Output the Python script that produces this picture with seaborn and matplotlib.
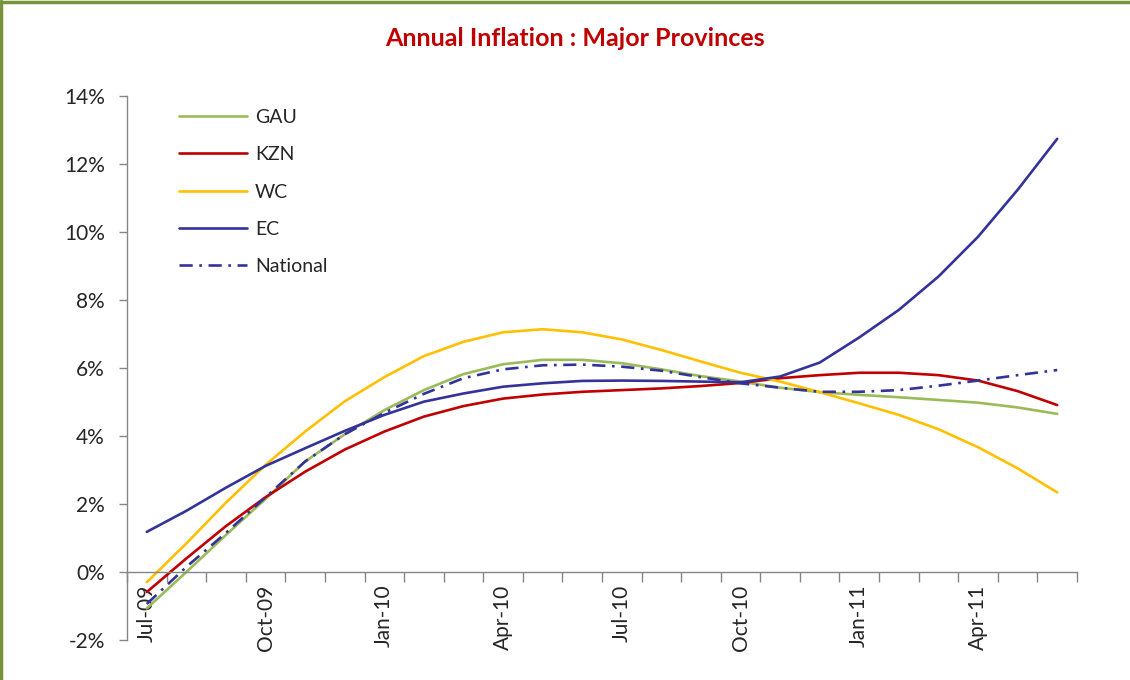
import numpy as np
import pandas as pd
import matplotlib.pyplot as plt
import matplotlib.ticker as mticker
from matplotlib.lines import Line2D
import seaborn as sns

# monthly annual inflation (%), Jul-09 .. Jun-11
months = ['Jul-09', 'Aug-09', 'Sep-09', 'Oct-09', 'Nov-09', 'Dec-09',
          'Jan-10', 'Feb-10', 'Mar-10', 'Apr-10', 'May-10', 'Jun-10',
          'Jul-10', 'Aug-10', 'Sep-10', 'Oct-10', 'Nov-10', 'Dec-10',
          'Jan-11', 'Feb-11', 'Mar-11', 'Apr-11', 'May-11', 'Jun-11']

gau = [-1.07, 0.0, 1.09, 2.15, 3.25, 4.05, 4.76, 5.35, 5.82, 6.11, 6.24, 6.24,
       6.14, 5.96, 5.76, 5.60, 5.42, 5.29, 5.21, 5.14, 5.06, 4.98, 4.84, 4.65]
kzn = [-0.59, 0.40, 1.35, 2.20, 2.95, 3.60, 4.13, 4.57, 4.88, 5.10, 5.22, 5.30,
       5.35, 5.40, 5.47, 5.56, 5.70, 5.79, 5.86, 5.86, 5.79, 5.63, 5.32, 4.91]
wc = [-0.30, 0.84, 2.04, 3.15, 4.13, 5.02, 5.73, 6.35, 6.77, 7.05, 7.14, 7.05,
      6.84, 6.53, 6.19, 5.86, 5.60, 5.29, 4.96, 4.62, 4.20, 3.67, 3.05, 2.34]
ec = [1.18, 1.80, 2.48, 3.12, 3.64, 4.15, 4.62, 5.01, 5.25, 5.45, 5.55, 5.62,
      5.63, 5.62, 5.60, 5.58, 5.75, 6.16, 6.90, 7.71, 8.69, 9.86, 11.24, 12.74]
national = [-0.94, 0.15, 1.15, 2.20, 3.25, 4.05, 4.68, 5.24, 5.70, 5.96, 6.08, 6.10,
            6.04, 5.92, 5.73, 5.55, 5.42, 5.30, 5.30, 5.35, 5.48, 5.63, 5.79, 5.94]

series_names = ['GAU', 'KZN', 'WC', 'EC', 'National']
series_values = [gau, kzn, wc, ec, national]
series_colors = ['#9BBB59', '#C00000', '#FFC000', '#333399', '#333399']

sns.set_style('white')
plt.rcParams['font.family'] = ['Lato', 'DejaVu Sans']
plt.rcParams['axes.unicode_minus'] = False

fig = plt.figure(figsize=(11.3, 6.8), dpi=100)
ax = fig.add_axes([127 / 1130, 1 - 640 / 680, 950 / 1130, 544 / 680])

x = np.arange(len(months))
for name, vals, col in zip(series_names, series_values, series_colors):
    ls = (0, (5, 2.5, 1, 2.5)) if name == 'National' else '-'
    sns.lineplot(x=x, y=vals, ax=ax, color=col, lw=1.9, linestyle=ls, label=name)

ax.set_xlim(-0.5, len(months) - 0.5)
ax.set_ylim(-2, 14)
ax.yaxis.set_major_locator(mticker.MultipleLocator(2))
ax.yaxis.set_major_formatter(mticker.PercentFormatter(decimals=0))

# category labels every quarter, tick marks between categories
ax.set_xticks(x[::3])
ax.set_xticklabels(months[::3])
ax.set_xticks(np.arange(-0.5, len(months)), minor=True)
ax.tick_params(axis='x', which='major', bottom=True, length=0, pad=9, labelsize=15,
               labelrotation=90)
ax.tick_params(axis='x', which='minor', bottom=True, length=7, width=1,
               color='#868686', direction='out')
ax.tick_params(axis='y', left=True, length=6, width=1, color='#868686', direction='out',
               labelsize=15, pad=10)

for s in ['top', 'right']:
    ax.spines[s].set_visible(False)
ax.spines['bottom'].set_position(('data', 0))
for s in ['bottom', 'left']:
    ax.spines[s].set_color('#868686')
    ax.spines[s].set_linewidth(1)
ax.set_xlabel('')
ax.set_ylabel('')

leg = ax.legend(loc='upper left', bbox_to_anchor=(0.0547, 0.976), frameon=False,
                fontsize=14, handlelength=3.5, handletextpad=0.4,
                labelspacing=1.04, borderpad=0, borderaxespad=0)

fig.text(0.509, 0.943, 'Annual Inflation : Major Provinces', ha='center', va='center',
         fontsize=18, fontweight='bold', color='#C00000')

# outer chart border (olive), top and left edges
for xs, ys in [([0.001, 0.001], [0, 0.998]), ([0.0, 1.0], [0.997, 0.997])]:
    fig.add_artist(Line2D(xs, ys, transform=fig.transFigure, color='#77933C', lw=2.5))

fig.savefig('out.png', dpi=100)
